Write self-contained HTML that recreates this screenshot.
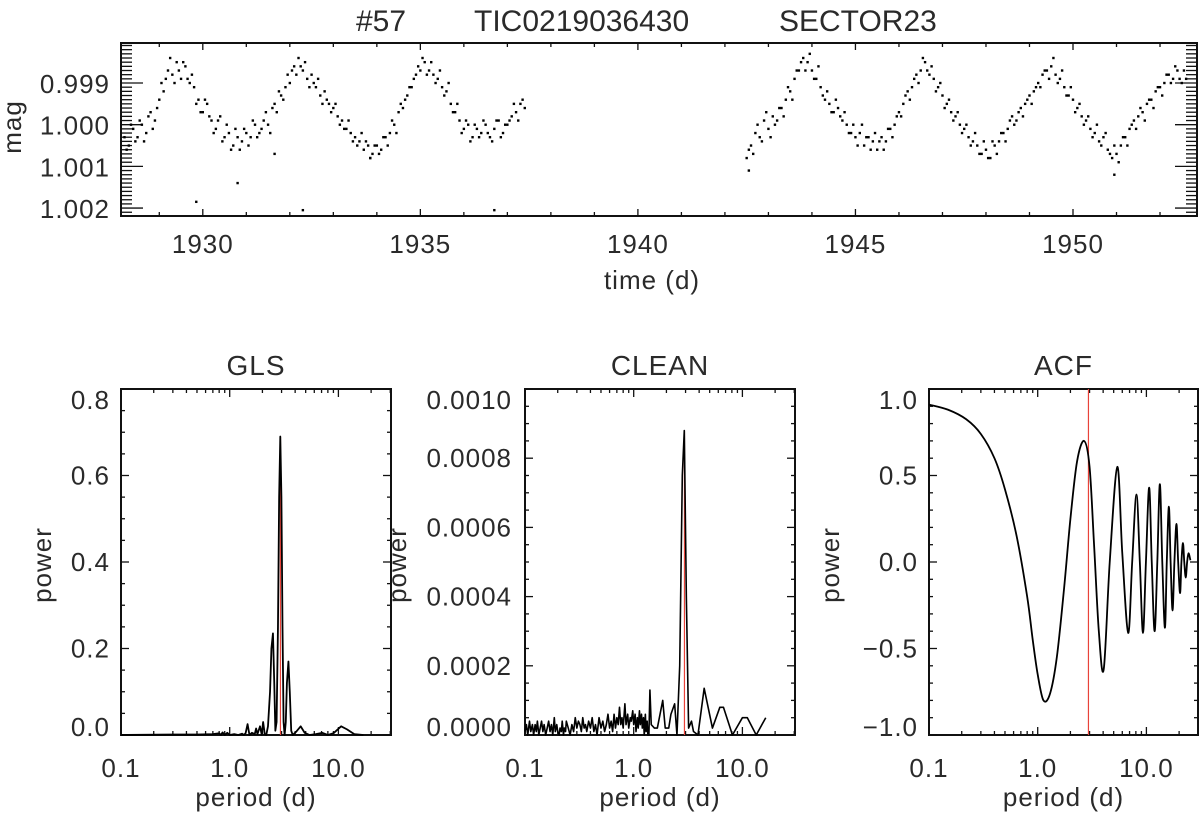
<!DOCTYPE html>
<html><head><meta charset="utf-8"><title>TIC0219036430 periodogram</title>
<style>
html,body{margin:0;padding:0;background:#fff;}
svg{display:block;font-family:"Liberation Sans",sans-serif;}
text{fill:#2a2a2a;}
</style></head>
<body>
<svg id="fig" width="1200" height="815" viewBox="0 0 1200 815" xmlns="http://www.w3.org/2000/svg">
<rect width="1200" height="815" fill="#fff"/>
<g font-size="30">
<text x="356" y="31">#57</text>
<text x="474" y="31">TIC0219036430</text>
<text x="779" y="31">SECTOR23</text>
</g>
</svg>
<script>
// ---------- light curve data ----------
const lcTimes = [
1928.2,1928.3,1928.4,1928.5,1928.6,1928.7,1928.8,1928.9,1929.0,1929.1,1929.2,1929.3,1929.4,1929.5,1929.6,1929.7,1929.8,1929.9,
1930.0,1930.1,1930.2,1930.3,1930.4,1930.5,1930.6,1930.7,1930.8,1930.9,1931.0,1931.1,1931.2,1931.3,1931.4,1931.5,1931.6,1931.7,1931.8,1931.9,
1932.0,1932.1,1932.2,1932.3,1932.4,1932.5,1932.6,1932.7,1932.8,1932.9,1933.0,1933.1,1933.2,1933.3,1933.4,1933.5,1933.6,1933.7,1933.8,1933.9,
1934.0,1934.1,1934.2,1934.3,1934.4,1934.5,1934.6,1934.7,1934.8,1934.9,1935.0,1935.1,1935.2,1935.3,1935.4,1935.5,1935.6,1935.7,1935.8,1935.9,
1936.0,1936.1,1936.2,1936.3,1936.4,1936.5,1936.6,1936.7,1936.8,1936.9,1937.0,1937.1,1937.2,1937.3,1937.4,
1942.5,1942.6,1942.7,1942.8,1942.9,1943.0,1943.1,1943.2,1943.3,1943.4,1943.5,1943.6,1943.7,1943.8,1943.9,
1944.0,1944.1,1944.2,1944.3,1944.4,1944.5,1944.6,1944.7,1944.8,1944.9,1945.0,1945.1,1945.2,1945.3,1945.4,1945.5,1945.6,1945.7,1945.8,1945.9,
1946.0,1946.1,1946.2,1946.3,1946.4,1946.5,1946.6,1946.7,1946.8,1946.9,1947.0,1947.1,1947.2,1947.3,1947.4,1947.5,1947.6,1947.7,1947.8,1947.9,
1948.0,1948.1,1948.2,1948.3,1948.4,1948.5,1948.6,1948.7,1948.8,1948.9,1949.0,1949.1,1949.2,1949.3,1949.4,1949.5,1949.6,1949.7,1949.8,1949.9,
1950.0,1950.1,1950.2,1950.3,1950.4,1950.5,1950.6,1950.7,1950.8,1950.9,1951.0,1951.1,1951.2,1951.3,1951.4,1951.5,1951.6,1951.7,1951.8,1951.9,
1952.0,1952.1,1952.2,1952.3,1952.4,1952.5,1952.6,
1929.85,1932.3,1936.7,1930.8,1950.95,1942.55,1933.85,1931.65
];
// magnitude offsets from 1.000 in units of 1e-4 mag
const lcMagOffset = [
3,5,1,3,0,2,-3,-1,-6,-8,-13,-12,-15,-11,-14,-10,-9,-6,
-3,-5,-1,1,-2,3,2,5,3,4,2,3,0,2,-1,0,-4,-3,-7,-9,
-10,-14,-16,-13,-11,-12,-9,-7,-8,-5,-4,-2,-1,1,2,3,4,6,5,7,
5,6,3,2,0,-3,-4,-7,-9,-12,-13,-15,-13,-12,-11,-9,-8,-5,-3,-1,
1,0,3,1,2,0,3,1,-1,2,0,-2,-3,-5,-4,
8,5,2,3,-1,1,-2,-1,-4,-6,-8,-11,-13,-16,-15,
-13,-11,-9,-6,-5,-3,-4,-1,0,2,3,2,5,3,4,6,3,4,1,0,
-3,-5,-8,-9,-12,-13,-15,-12,-11,-9,-7,-5,-3,-2,0,1,3,4,5,7,
6,8,5,4,2,1,-2,-1,-4,-5,-7,-8,-10,-12,-13,-14,-12,-11,-9,-7,
-6,-4,-2,-1,1,2,4,3,6,8,7,5,3,1,-1,-2,-3,-5,-6,-8,
-9,-10,-12,-11,-13,-10,-11,
18.5,20.5,20.5,14,12,11,8,7
];
const lcTimes2 = [
1928.25,1928.35,1928.45,1928.55,1928.65,1928.75,1928.85,1928.95,
1929.05,1929.15,1929.25,1929.35,1929.45,1929.55,1929.65,1929.75,1929.85,1929.95,
1930.05,1930.15,1930.25,1930.35,1930.45,1930.55,1930.65,1930.75,1930.85,1930.95,
1931.05,1931.15,1931.25,1931.35,1931.45,1931.55,1931.65,1931.75,1931.85,1931.95,
1932.05,1932.15,1932.25,1932.35,1932.45,1932.55,1932.65,1932.75,1932.85,1932.95,
1933.05,1933.15,1933.25,1933.35,1933.45,1933.55,1933.65,1933.75,1933.85,1933.95,
1934.05,1934.15,1934.25,1934.35,1934.45,1934.55,1934.65,1934.75,1934.85,1934.95,
1935.05,1935.15,1935.25,1935.35,1935.45,1935.55,1935.65,1935.75,1935.85,1935.95,
1936.05,1936.15,1936.25,1936.35,1936.45,1936.55,1936.65,1936.75,1936.85,1936.95,
1937.05,1937.15,1937.25,1937.35,
1942.55,1942.65,1942.75,1942.85,1942.95,
1943.05,1943.15,1943.25,1943.35,1943.45,1943.55,1943.65,1943.75,1943.85,1943.95,
1944.05,1944.15,1944.25,1944.35,1944.45,1944.55,1944.65,1944.75,1944.85,1944.95,
1945.05,1945.15,1945.25,1945.35,1945.45,1945.55,1945.65,1945.75,1945.85,1945.95,
1946.05,1946.15,1946.25,1946.35,1946.45,1946.55,1946.65,1946.75,1946.85,1946.95,
1947.05,1947.15,1947.25,1947.35,1947.45,1947.55,1947.65,1947.75,1947.85,1947.95,
1948.05,1948.15,1948.25,1948.35,1948.45,1948.55,1948.65,1948.75,1948.85,1948.95,
1949.05,1949.15,1949.25,1949.35,1949.45,1949.55,1949.65,1949.75,1949.85,1949.95,
1950.05,1950.15,1950.25,1950.35,1950.45,1950.55,1950.65,1950.75,1950.85,1950.95,
1951.05,1951.15,1951.25,1951.35,1951.45,1951.55,1951.65,1951.75,1951.85,1951.95,
1952.05,1952.15,1952.25,1952.35,1952.45,1952.55
];
const lcMagOffset2 = [
6,0,4,-1,4,-2,1,-4,
-10,-11,-16,-10,-13,-15,-11,-12,-5,-3,
-6,-2,2,-1,4,0,6,1,6,1,
5,-1,3,1,-3,2,-5,-8,-6,-12,
-13,-12,-14,-15,-9,-10,-11,-5,-6,-3,
-5,0,1,-1,4,5,2,4,8,5,
7,3,5,-1,2,-5,-6,-9,-11,-14,
-16,-12,-15,-10,-13,-7,-10,-3,-5,2,
-1,4,0,3,-1,2,4,-1,3,0,
-1,-5,-1,-6,
6,7,0,4,-3,
3,0,-4,-2,-9,-6,-13,-15,-13,-17,
-11,-14,-7,-8,-3,-6,-2,-3,2,0,
5,0,3,6,2,4,6,1,3,-2,
-2,-7,-6,-11,-10,-16,-13,-14,-8,-10,
-4,-6,-1,-3,2,0,5,2,7,4,
8,4,7,2,4,-1,0,-3,-2,-6,
-5,-9,-9,-13,-11,-16,-10,-13,-7,-9,
-3,-5,0,-2,3,0,5,2,7,5,
9,3,5,0,1,-4,-1,-6,-4,-9,
-7,-12,-10,-14,-11,-13
];
const lcXTicks = [1930,1935,1940,1945,1950];
const lcYTicks = [0.999,1.000,1.001,1.002];
const lcYTickLabels = ["0.999","1.000","1.001","1.002"];

// ---------- GLS ----------
const glsPeriod = [0.1,0.3,0.5,0.7,0.8,0.83,0.86,0.9,0.95,1.0,1.1,1.2,1.3,1.35,1.4,1.46,1.52,1.6,1.7,1.75,1.8,1.9,1.97,2.03,2.1,2.17,2.25,2.35,2.42,2.5,2.57,2.63,2.7,2.78,2.85,2.92,2.99,3.06,3.13,3.2,3.28,3.36,3.47,3.57,3.68,3.8,4.1,4.5,4.9,5.4,6.2,7.1,8.0,9.0,10.6,12.0,14.0,17.0];
const glsPower = [0,0.001,0.001,0.002,0.004,0,0.006,0,0.005,0,0.002,0,0.003,0,0.004,0.025,0,0.005,0.002,0.015,0.002,0.02,0.001,0.03,0.002,0,0.02,0.1,0.2,0.235,0.12,0.01,0.03,0.25,0.55,0.69,0.55,0.25,0.03,0,0.03,0.12,0.17,0.1,0.01,0,0.008,0.02,0.005,0,0.002,0.005,0,0.004,0.02,0.013,0.002,0];
const glsYTicks = [0,0.2,0.4,0.6,0.8];
const glsYTickLabels = ["0.0","0.2","0.4","0.6","0.8"];

// ---------- CLEAN ----------
const cleanPeriod = [0.10,0.103,0.106,0.11,0.113,0.117,0.12,0.124,0.127,0.13,0.134,0.138,0.142,0.146,0.15,0.155,0.16,0.165,0.17,0.175,0.18,0.186,0.19,0.196,0.20,0.206,0.21,0.216,0.22,0.226,0.23,0.236,0.24,0.25,0.26,0.27,0.28,0.29,0.30,0.31,0.32,0.33,0.34,0.35,0.36,0.37,0.385,0.40,0.415,0.43,0.445,0.46,0.48,0.50,0.52,0.54,0.56,0.58,0.60,0.62,0.64,0.66,0.68,0.70,0.72,0.74,0.76,0.78,0.80,0.83,0.85,0.88,0.90,0.93,0.95,0.98,1.00,1.03,1.05,1.08,1.10,1.13,1.15,1.18,1.20,1.23,1.25,1.28,1.30,1.33,1.35,
1.38,1.41,1.45,1.55,1.65,1.85,1.95,2.1,2.2,2.38,2.5,2.65,2.8,2.92,3.05,3.2,3.4,3.55,3.9,4.45,5.3,6.2,6.7,8.1,10.0,11.1,13.4,16.4];
// power in units of 1e-5
const cleanPower = [1,3,0,4,1,3,0,3,1,4,0,2,4,1,3,0,2,4,1,3,0,5,1,3,1,0,2,1,4,0,2,1,4,2,0,3,1,5,2,4,3,1,5,2,3,1,4,2,5,1,3,0,5,2,4,1,3,6,2,4,1,6,2,5,3,8,3,5,2,9,3,6,2,5,4,7,3,6,1,5,2,7,3,6,2,5,0,6,1,4,0,
0,13,3,2,2,10,2,2,6,9,0,20,75,88,40,2,4,1,0,13.5,2,8,8,0,5,5,0,5];
const cleanYTicks = [0,0.0002,0.0004,0.0006,0.0008,0.0010];
const cleanYTickLabels = ["0.0000","0.0002","0.0004","0.0006","0.0008","0.0010"];

// ---------- ACF ----------
const acfPeriod = [0.1,0.15,0.22,0.3,0.4,0.5,0.64,0.8,0.9,1.0,1.13,1.3,1.5,1.75,2.0,2.3,2.67,3.0,3.3,3.65,4.05,4.6,5.4,6.0,6.8,7.4,8.1,8.7,9.3,9.9,10.6,11.2,11.9,12.6,13.3,14.0,14.8,15.4,16.1,16.7,17.4,18.1,18.9,19.6,20.4,21.0,21.7,22.3,23.0,23.7,24.4,25.4];
const acfValue = [0.91,0.88,0.825,0.74,0.6,0.42,0.15,-0.2,-0.45,-0.65,-0.80,-0.76,-0.55,-0.15,0.25,0.58,0.70,0.55,0.1,-0.4,-0.62,0.0,0.55,0.05,-0.41,0.0,0.39,0.0,-0.41,0.0,0.43,0.0,-0.40,0.0,0.45,0.0,-0.38,0.0,0.32,0,-0.28,0,0.22,0,-0.18,0,0.11,0,-0.09,0,0.05,0.01];
const acfYTicks = [-1,-0.5,0,0.5,1];
const acfYTickLabels = ["\u22121.0","\u22120.5","0.0","0.5","1.0"];

const periodTicks = [0.1,1,10];
const periodTickLabels = ["0.1","1.0","10.0"];
const bestPeriod = [2.93];

// ---------- helpers ----------
const NS = "http://www.w3.org/2000/svg";
const svg = document.getElementById("fig");
function mk(parent, tag, attrs, name) {
  const el = document.createElementNS(NS, tag);
  for (const k in attrs) el.setAttribute(k, attrs[k]);
  
  
  parent.appendChild(el);
  return el;
}
function txt(parent, x, y, s, name, anchor, size, extra) {
  const t = mk(parent, "text", Object.assign({x: x, y: y, "text-anchor": anchor || "middle", "font-size": size || 26, "letter-spacing": 1}, extra || {}), name);
  t.textContent = s;
  return t;
}
function crPath(pts) {
  if (pts.length < 2) return "";
  let d = "M" + pts[0][0].toFixed(2) + "," + pts[0][1].toFixed(2);
  for (let i = 0; i < pts.length - 1; i++) {
    const p0 = pts[i - 1] || pts[i], p1 = pts[i], p2 = pts[i + 1], p3 = pts[i + 2] || p2;
    const c1 = [p1[0] + (p2[0] - p0[0]) / 6, p1[1] + (p2[1] - p0[1]) / 6];
    const c2 = [p2[0] - (p3[0] - p1[0]) / 6, p2[1] - (p3[1] - p1[1]) / 6];
    d += "C" + c1[0].toFixed(2) + "," + c1[1].toFixed(2) + " " + c2[0].toFixed(2) + "," + c2[1].toFixed(2) + " " + p2[0].toFixed(2) + "," + p2[1].toFixed(2);
  }
  return d;
}
function linPath(pts) {
  return pts.map((p, i) => (i ? "L" : "M") + p[0].toFixed(2) + "," + p[1].toFixed(2)).join("");
}

// ---------- top panel: light curve ----------
(function () {
  const x0 = 121, x1 = 1197, y0 = 43, y1 = 216;
  const tMin = 1928.12, tMax = 1952.85, mTop = 0.99804, mBot = 1.00219;
  const X = t => x0 + (t - tMin) / (tMax - tMin) * (x1 - x0);
  const Y = m => y0 + (m - mTop) / (mBot - mTop) * (y1 - y0);
  const g = mk(svg, "g", {}, "light-curve-panel");
  const ax = mk(g, "g", {stroke: "#111", "stroke-width": 1.3}, "light-curve-axes");
  mk(ax, "rect", {x: x0, y: y0, width: x1 - x0, height: y1 - y0, fill: "none", "stroke-width": 2}, "light-curve-frame");
  for (let t = 1929; t <= 1952; t++) {
    const maj = lcXTicks.indexOf(t) >= 0, L = maj ? 7 : 4;
    mk(ax, "line", {x1: X(t), x2: X(t), y1: y1, y2: y1 - L}, "x-tick-bottom");
    mk(ax, "line", {x1: X(t), x2: X(t), y1: y0, y2: y0 + L}, "x-tick-top");
  }
  for (let k = 9981; k <= 10021; k++) {
    const m = k / 10000; const maj = (k % 10 === 0), L = maj ? 22 : 11;
    if (m < mTop || m > mBot) continue;
    mk(ax, "line", {x1: x0, x2: x0 + L, y1: Y(m), y2: Y(m)}, "y-tick-left");
    mk(ax, "line", {x1: x1, x2: x1 - L, y1: Y(m), y2: Y(m)}, "y-tick-right");
  }
  lcXTicks.forEach(t => txt(g, X(t), 253, String(t), "x-tick-label"));
  lcYTicks.forEach((m, i) => txt(g, 110, Y(m) + 10, lcYTickLabels[i], "y-tick-label", "end"));
  txt(g, 652, 289, "time (d)", "x-axis-title");
  txt(g, 0, 0, "mag", "y-axis-title", "middle", 26, {transform: "translate(21,127) rotate(-90)"});
  const pts = mk(g, "g", {fill: "#000"}, "light-curve-points");
  lcTimes.forEach((t, i) => {
    mk(pts, "rect", {x: X(t) - 1.2, y: Y(1 + lcMagOffset[i] * 1e-4) - 1.2, width: 2.4, height: 2.4}, "data-point");
  });
  lcTimes2.forEach((t, i) => {
    mk(pts, "rect", {x: X(t) - 1.2, y: Y(1 + lcMagOffset2[i] * 1e-4) - 1.2, width: 2.4, height: 2.4}, "data-point");
  });
})();

// ---------- bottom panels ----------
function logPanel(cfg) {
  const {x0, x1, y0, y1, yMin, yMax, yTicks, yLabels, yMinorStep, title, key} = cfg;
  const pMin = 0.1, dec = 108.7;
  const X = p => x0 + (Math.log10(p) - Math.log10(pMin)) * dec;
  const Y = v => y1 - (v - yMin) / (yMax - yMin) * (y1 - y0);
  const g = mk(svg, "g", {}, key + "-panel");
  const ax = mk(g, "g", {stroke: "#111", "stroke-width": 1.3}, key + "-axes");
  mk(ax, "rect", {x: x0, y: y0, width: x1 - x0, height: y1 - y0, fill: "none", "stroke-width": 2}, key + "-frame");
  for (let e = -1; e <= 1; e++) for (let m = 1; m <= 9; m++) {
    const p = m * Math.pow(10, e), x = X(p);
    if (x > x1 - 0.5) continue;
    const L = m === 1 ? 8 : 4;
    mk(ax, "line", {x1: x, x2: x, y1: y1, y2: y1 - L}, "x-tick-bottom");
    mk(ax, "line", {x1: x, x2: x, y1: y0, y2: y0 + L}, "x-tick-top");
  }
  const nMinor = Math.round((yMax - yMin) / yMinorStep);
  const majStep = yTicks[1] - yTicks[0];
  for (let i = 0; i <= nMinor; i++) {
    const v = yMin + i * yMinorStep;
    const r = (v - yMin) / majStep;
    const maj = Math.abs(r - Math.round(r)) < 1e-6, L = maj ? 8 : 4;
    mk(ax, "line", {x1: x0, x2: x0 + L, y1: Y(v), y2: Y(v)}, "y-tick-left");
    mk(ax, "line", {x1: x1, x2: x1 - L, y1: Y(v), y2: Y(v)}, "y-tick-right");
  }
  yTicks.forEach((v, i) => {
    let yy = Y(v) + 9;
    if (i === 0) yy = Y(v) + 1;
    if (i === yTicks.length - 1) yy = Y(v) + 20;
    txt(g, cfg.labelRight, yy, yLabels[i], "y-tick-label", "end");
  });
  periodTicks.forEach((p, i) => txt(g, X(p), 777, periodTickLabels[i], "x-tick-label"));
  txt(g, (x0 + x1) / 2, 806, "period (d)", "x-axis-title");
  txt(g, (x0 + x1) / 2, 375, title, "panel-title", "middle", 28);
  txt(g, 0, 0, "power", "y-axis-title", "middle", 26, {transform: "translate(" + (cfg.powerX + 9) + ",565) rotate(-90)"});
  return {g, X, Y};
}

// GLS
(function () {
  const P = logPanel({x0: 121, x1: 391, y0: 389, y1: 735, yMin: 0, yMax: 0.8, yTicks: glsYTicks, yLabels: glsYTickLabels, yMinorStep: 0.05, title: "GLS", key: "gls", labelRight: 110, powerX: 42});
  const peak = Math.max(...glsPower);
  mk(P.g, "line", {x1: P.X(bestPeriod[0]), x2: P.X(bestPeriod[0]), y1: P.Y(0), y2: P.Y(peak), stroke: "#e8433a", "stroke-width": 1.2}, "best-period-line");
  const pts = glsPeriod.map((p, i) => [P.X(p), P.Y(glsPower[i])]);
  mk(P.g, "path", {d: linPath(pts), fill: "none", stroke: "#000", "stroke-width": 1.8, "stroke-linejoin": "round"}, "gls-curve");
})();

// CLEAN
(function () {
  const P = logPanel({x0: 525, x1: 795, y0: 389, y1: 735, yMin: 0, yMax: 0.001, yTicks: cleanYTicks, yLabels: cleanYTickLabels, yMinorStep: 0.00005, title: "CLEAN", key: "clean", labelRight: 512, powerX: 397});
  const peak = Math.max(...cleanPower) * 1e-5;
  mk(P.g, "line", {x1: P.X(bestPeriod[0]), x2: P.X(bestPeriod[0]), y1: P.Y(0), y2: P.Y(peak), stroke: "#e8433a", "stroke-width": 1.2}, "best-period-line");
  const pts = cleanPeriod.map((p, i) => [P.X(p), P.Y(cleanPower[i] * 1e-5)]);
  mk(P.g, "path", {d: linPath(pts), fill: "none", stroke: "#000", "stroke-width": 1.6, "stroke-linejoin": "round"}, "clean-curve");
})();

// ACF
(function () {
  const P = logPanel({x0: 929, x1: 1198, y0: 389, y1: 735, yMin: -1, yMax: 1, yTicks: acfYTicks, yLabels: acfYTickLabels, yMinorStep: 0.1, title: "ACF", key: "acf", labelRight: 918, powerX: 830});
  mk(P.g, "line", {x1: P.X(bestPeriod[0]), x2: P.X(bestPeriod[0]), y1: 389, y2: 735, stroke: "#e8433a", "stroke-width": 1.2}, "best-period-line");
  const pts = acfPeriod.map((p, i) => [P.X(p), P.Y(acfValue[i])]);
  mk(P.g, "path", {d: crPath(pts), fill: "none", stroke: "#000", "stroke-width": 1.8}, "acf-curve");
})();
</script>
</body></html>
